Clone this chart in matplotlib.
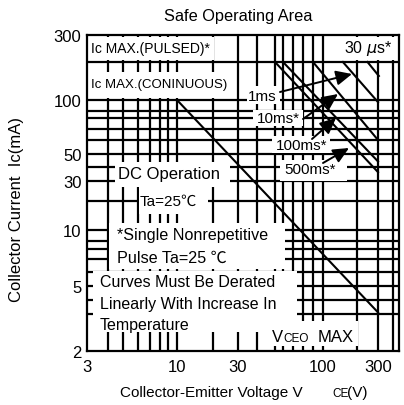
import numpy as np
import matplotlib
matplotlib.use("Agg")
import matplotlib.pyplot as plt
from matplotlib.patches import Rectangle
from matplotlib.ticker import NullLocator

plt.rcParams['font.family'] = ['Liberation Sans', 'Noto Sans CJK JP', 'DejaVu Sans']

# --- DATA ---
x_ticks = [3, 10, 30, 100, 300]
y_ticks = [2, 5, 10, 30, 50, 100, 300]
v_grid = [4, 5, 6, 7, 8, 9, 10, 20, 30, 40, 50, 60, 70, 80, 90, 100, 200, 300, 400]
h_grid = [3, 4, 5, 6, 7, 8, 9, 10, 20, 30, 40, 50, 60, 70, 80, 90, 100, 200]

dc_v = [10, 300]
dc_i = [100, 3.1]

pulse_names = ["30us", "1ms", "10ms", "100ms", "500ms"]
pulse_v = [[245, 305], [150, 300], [90, 300], [60, 300], [50, 300]]
pulse_i = [[200, 155], [200, 98], [200, 60], [200, 44], [200, 36]]

# --- AXIS SCALE (the printed chart is not a true log grid) ---
x_anchor_val = [3, 4, 5, 6, 7, 8, 9, 10, 20, 30, 40, 50, 60, 70, 80, 90, 100, 200, 300, 400, 440]
x_anchor_pix = [87, 108, 123, 138, 150, 160, 168, 177, 213, 238, 257, 275, 283, 293, 303, 313, 323, 357, 378, 393, 399]
y_anchor_val = [2, 3, 4, 5, 6, 7, 8, 9, 10, 20, 30, 40, 50, 60, 70, 80, 90, 100, 200, 300]
y_anchor_pix = [352, 315, 301, 287, 273, 260, 250, 242, 231, 202, 182, 168, 155, 141, 130, 119, 112, 101, 63, 36]

lxa = np.log10(x_anchor_val)
xpa = np.array(x_anchor_pix, float)
lya = np.log10(y_anchor_val)
ypa = -np.array(y_anchor_pix, float)


def fwd_x(v):
    v = np.clip(np.asarray(v, float), 1e-6, None)
    return np.interp(np.log10(v), lxa, xpa)


def inv_x(p):
    return 10 ** np.interp(np.asarray(p, float), xpa, lxa)


def fwd_y(v):
    v = np.clip(np.asarray(v, float), 1e-6, None)
    return np.interp(np.log10(v), lya, ypa)


def inv_y(p):
    return 10 ** np.interp(np.asarray(p, float), ypa, lya)


W, H = 404, 406


def px(x, y):
    return (x / W, 1 - y / H)


fig = plt.figure(figsize=(W / 100, H / 100), dpi=100)
ax = fig.add_axes([87 / W, 1 - 352 / H, (399 - 87) / W, (352 - 36) / H])
ax.set_xscale('function', functions=(fwd_x, inv_x))
ax.set_yscale('function', functions=(fwd_y, inv_y))
ax.set_xlim(3, 440)
ax.set_ylim(2, 300)

lw = 1.6
for v in v_grid:
    ax.axvline(v, color='black', lw=lw, zorder=1)
for h in h_grid:
    ax.axhline(h, color='black', lw=lw, zorder=1)

ax.plot(dc_v, dc_i, color='black', lw=1.5, zorder=2)
for xs, ys in zip(pulse_v, pulse_i):
    ax.plot(xs, ys, color='black', lw=1.5, zorder=2)

ax.set_xticks(x_ticks)
ax.set_xticklabels([str(t) for t in x_ticks])
ax.set_yticks(y_ticks)
ax.set_yticklabels([str(t) for t in y_ticks])
ax.xaxis.set_minor_locator(NullLocator())
ax.yaxis.set_minor_locator(NullLocator())
ax.tick_params(length=0, labelsize=12)
ax.tick_params(axis='x', pad=6)
ax.tick_params(axis='y', pad=4)
for s in ax.spines.values():
    s.set_linewidth(lw)

# white label boxes (pixel coords x0, y0, x1, y1)
boxes = [
    (89, 38, 214, 61), (89, 73, 230, 99), (331, 38, 397, 61),
    (115, 163, 230, 188), (139, 188, 208, 215), (109, 224, 285, 270),
    (93, 272, 297, 333), (267, 322, 358, 347),
    (247, 87, 280, 105), (253, 111, 303, 127), (272, 137, 330, 154), (280, 161, 347, 182),
]
for x0, y0, x1, y1 in boxes:
    ax.add_patch(Rectangle(px(x0, y1), (x1 - x0) / W, (y1 - y0) / H,
                           transform=fig.transFigure, facecolor='white',
                           edgecolor='none', zorder=3))


def t(x, y, s, size=11, ha='left', va='center', **kw):
    ax.text(*px(x, y), s, transform=fig.transFigure, fontsize=size,
            ha=ha, va=va, zorder=4, **kw)


t(91, 49, 'Ic MAX.(PULSED)*', 10)
t(91, 85, 'Ic MAX.(CONINUOUS)', 9.5)
t(368, 49, r'30 $\mu$s*', 11.5, ha='center')
t(118, 175, 'DC Operation', 12)
t(140, 202, 'Ta=25℃', 11)
t(117, 236, '*Single Nonrepetitive', 11.6)
t(117, 258, 'Pulse Ta=25 ℃', 11.6)
t(100, 283, 'Curves Must Be Derated', 11.5)
t(100, 305, 'Linearly With Increase In', 11.5)
t(100, 326, 'Temperature', 11.5)
t(272, 342, 'V', 12, va='baseline')
t(283, 342, 'CEO', 8.5, va='baseline')
t(318, 342, 'MAX', 12, va='baseline')

t(262, 97, '1ms', 11, ha='center')
t(278, 119, '10ms*', 11, ha='center')
t(302, 146, '100ms*', 11, ha='center')
t(310, 170, '500ms*', 11, ha='center')

arrows = [((280, 93), (352, 75)), ((303, 120), (338, 95)),
          ((312, 140), (336, 119)), ((323, 164), (349, 149))]
for (x0, y0), (x1, y1) in arrows:
    ax.annotate('', xy=px(x1, y1), xytext=px(x0, y0),
                xycoords='figure fraction', textcoords='figure fraction',
                arrowprops=dict(arrowstyle='-|>,head_length=0.6,head_width=0.28',
                                color='black', lw=1.4, mutation_scale=16,
                                shrinkA=0, shrinkB=0), zorder=5)

fig.text(*px(238, 17), 'Safe Operating Area', fontsize=11.8, ha='center', va='center')
fig.text(*px(17, 210), 'Collector Current  Ic(mA)', fontsize=12, rotation=90,
         ha='center', va='center')
fig.text(*px(120, 397), 'Collector-Emitter Voltage V', fontsize=11, ha='left', va='baseline')
fig.text(*px(332, 397), 'CE', fontsize=8.5, ha='left', va='baseline')
fig.text(*px(347, 397), '(V)', fontsize=11, ha='left', va='baseline')

fig.savefig('out.png', dpi=100)
